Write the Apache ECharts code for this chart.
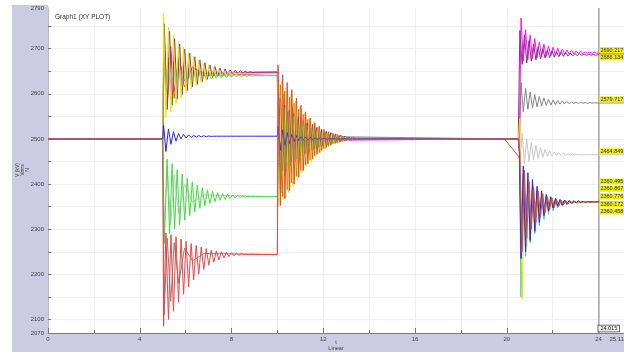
<!DOCTYPE html>
<html>
<head>
<meta charset="utf-8">
<script src="https://cdn.jsdelivr.net/npm/echarts@6/dist/echarts.min.js"></script>
<style>
html, body { margin: 0; padding: 0; background: #ffffff; }
#wrap { position: relative; width: 624px; height: 352px; overflow: hidden; }
.panel { position: absolute; background: #cbcbe4; }
#chart { position: absolute; left: 0; top: 0; width: 624px; height: 352px; }
</style>
</head>
<body>
<div id="wrap">
  <div class="panel" style="left:12px;top:5px;width:36px;height:347px"></div>
  <div class="panel" style="left:12px;top:333px;width:612px;height:19px"></div>
  <div id="chart"></div>
</div>
<script>
// ---- axis ranges and ticks ----
const X_MAX = 25.11;
const Y_MIN = 2070;
const Y_MAX = 2790;
const Y_LABELS = [2070, 2100, 2200, 2300, 2400, 2500, 2600, 2700, 2790];
const Y_TICKS = [2100, 2150, 2200, 2250, 2300, 2350, 2400, 2450, 2500, 2550, 2600, 2650, 2700, 2750];
const CURSOR_T = 24.015;

// ---- time grids (s) ----
const T0 = [0.0];
const T1A = [5.00, 5.04, 5.14, 5.25, 5.36, 5.47, 5.58, 5.69, 5.80, 5.91, 6.02, 6.13, 6.24, 6.35, 6.46, 6.57, 6.68, 6.79, 6.90, 7.01, 7.12, 7.23, 7.34, 7.45, 7.56, 7.67, 7.78, 7.89, 8.00, 8.11, 8.22, 8.33, 8.44, 8.55, 8.66, 8.77, 8.88, 8.99, 10.00];
const T1B = [5.00, 5.07, 5.19, 5.30, 5.41, 5.52, 5.63, 5.74, 5.85, 5.96, 6.07, 6.18, 6.29, 6.40, 6.51, 6.62, 6.73, 6.84, 6.95, 7.06, 7.17, 7.28, 7.39, 7.50, 7.61, 7.72, 7.83, 7.94, 8.05, 8.16, 8.27, 8.38, 8.49, 8.60, 8.71, 8.82, 8.93, 9.04, 10.00];
const T1S = [5.00, 5.06, 5.20, 5.35, 5.50, 5.70, 5.95, 6.30, 6.80, 10.00];
const T2A = [10.03, 10.13, 10.23, 10.33, 10.43, 10.53, 10.63, 10.73, 10.83, 10.93, 11.03, 11.13, 11.23, 11.33, 11.43, 11.53, 11.63, 11.73, 11.83, 11.93, 12.03, 12.13, 12.23, 12.33, 12.43, 12.53, 12.63, 12.73, 12.83, 12.93, 13.03, 13.13, 13.23, 13.33, 13.43, 13.53, 19.90];
const T2B = [10.05, 10.18, 10.28, 10.38, 10.48, 10.58, 10.68, 10.78, 10.88, 10.98, 11.08, 11.18, 11.28, 11.38, 11.48, 11.58, 11.68, 11.78, 11.88, 11.98, 12.08, 12.18, 12.28, 12.38, 12.48, 12.58, 12.68, 12.78, 12.88, 12.98, 13.08, 13.18, 13.28, 13.38, 13.48, 13.58, 19.90];
const T2S = [10.04, 10.15, 10.30, 10.45, 10.65, 10.90, 11.25, 11.70, 12.30, 19.90];
const T3A = [20.50, 20.55, 20.62, 20.72, 20.82, 20.92, 21.02, 21.12, 21.22, 21.32, 21.42, 21.52, 21.62, 21.72, 21.82, 21.92, 22.02, 22.12, 22.22, 22.32, 22.42, 22.52, 22.62, 22.72, 22.82, 22.92, 23.02, 23.12, 23.22, 23.32, 23.42, 23.52, 23.62, 23.72, 23.82, 23.92, 25.11];
const T3B = [20.50, 20.57, 20.67, 20.77, 20.87, 20.97, 21.07, 21.17, 21.27, 21.37, 21.47, 21.57, 21.67, 21.77, 21.87, 21.97, 22.07, 22.17, 22.27, 22.37, 22.47, 22.57, 22.67, 22.77, 22.87, 22.97, 23.07, 23.17, 23.27, 23.37, 23.47, 23.57, 23.67, 23.77, 23.87, 23.97, 25.11];

// ---- voltages (kV) ----
const V0 = [2500];

const RED_E1 = [2500, 2085, 2292, 2100, 2288, 2118, 2283, 2138, 2278, 2156, 2273, 2172, 2268, 2188, 2264, 2200, 2260, 2211, 2257, 2220, 2254, 2227, 2252, 2232, 2250, 2236, 2249, 2239, 2248, 2241, 2247, 2242, 2246, 2243, 2245, 2243.5, 2244.5, 2244, 2244];
const RED_E2 = [2664, 2352, 2642, 2368, 2625, 2385, 2609, 2400, 2590, 2415, 2574, 2430, 2560, 2445, 2546, 2456, 2536, 2466, 2528, 2474, 2521, 2481, 2516, 2486, 2512, 2490, 2509, 2493, 2506, 2495, 2504, 2497, 2503, 2498, 2501.5, 2499, 2500];
const RED_E3 = [2500, 2470, 2250, 2430, 2280, 2405, 2300, 2392, 2315, 2384, 2327, 2377, 2336, 2372, 2343, 2369, 2348, 2366, 2351, 2364.5, 2353.5, 2363.5, 2355.5, 2362.8, 2357, 2362.2, 2358, 2361.8, 2358.8, 2361.4, 2359.3, 2361, 2359.7, 2360.7, 2359.9, 2360.4, 2360.172];

const GREEN_E1 = [2500, 2268, 2455, 2290, 2445, 2300, 2432, 2310, 2422, 2320, 2413, 2330, 2405, 2338, 2398, 2346, 2392, 2352, 2387, 2357, 2384, 2361, 2381, 2364, 2379, 2366, 2377, 2368, 2376, 2369, 2375, 2370, 2374, 2371, 2373, 2371.5, 2372.5, 2372, 2372];
const GREEN_E2 = [2560, 2420, 2570, 2430, 2560, 2440, 2550, 2450, 2542, 2458, 2535, 2465, 2529, 2471, 2524, 2476, 2520, 2480, 2516, 2484, 2513, 2487, 2510, 2490, 2508, 2492, 2506, 2494, 2505, 2496, 2503, 2497.5, 2502, 2498.5, 2501, 2499.5, 2500];
const GREEN_E3 = [2500, 2478, 2270, 2425, 2290, 2402, 2305, 2390, 2318, 2382, 2328, 2376, 2336, 2371, 2342, 2368, 2347, 2366, 2350, 2364.5, 2353, 2363.5, 2355, 2362.8, 2356.5, 2362.3, 2357.5, 2362, 2358.3, 2361.5, 2359, 2361.2, 2359.6, 2360.9, 2360, 2360.6, 2360.458];

const BLUE_E1 = [2500, 2530, 2472, 2522, 2488, 2516, 2495, 2512, 2500, 2510, 2502, 2509, 2503, 2508, 2504, 2507.5, 2504.5, 2507, 2505, 2506.5, 2505.5, 2506, 2506, 2506, 2506, 2506, 2506, 2506, 2506, 2506, 2506, 2506, 2506, 2506, 2506, 2506, 2506, 2506, 2506];
const BLUE_E2 = [2528, 2475, 2520, 2485, 2514, 2490, 2510, 2494, 2507, 2496, 2505, 2497, 2504, 2498, 2503, 2498.5, 2502, 2499, 2501.5, 2499.5, 2501, 2499.5, 2500.5, 2500, 2500, 2500, 2500, 2500, 2500, 2500, 2500, 2500, 2500, 2500, 2500, 2500, 2500];
const BLUE_E3 = [2500, 2470, 2235, 2440, 2250, 2425, 2275, 2410, 2295, 2395, 2315, 2385, 2330, 2377, 2340, 2372, 2347, 2368, 2351, 2366, 2354, 2364.5, 2356, 2363.5, 2357.5, 2363, 2358.5, 2362.5, 2359, 2362, 2359.5, 2361.5, 2360, 2361.3, 2360.3, 2361, 2360.776];

const YELLOW_E1 = [2500, 2778, 2548, 2748, 2560, 2730, 2578, 2716, 2590, 2703, 2602, 2692, 2611, 2683, 2618, 2675, 2624, 2668, 2629, 2662, 2633, 2658, 2636, 2654, 2638, 2651, 2640, 2649, 2641, 2648, 2642, 2647, 2643, 2646, 2644, 2645.5, 2644.5, 2645, 2645];
const YELLOW_E2 = [2350, 2628, 2365, 2612, 2380, 2598, 2395, 2584, 2410, 2570, 2425, 2557, 2438, 2545, 2450, 2535, 2460, 2527, 2469, 2520, 2477, 2515, 2483, 2511, 2488, 2508, 2491, 2506, 2494, 2504, 2496, 2503, 2497.5, 2502, 2498.5, 2500.5, 2500];
const YELLOW_E3 = [2500, 2545, 2145, 2430, 2260, 2410, 2290, 2398, 2310, 2388, 2325, 2380, 2336, 2374, 2344, 2370, 2349, 2367, 2352, 2365, 2355, 2363.5, 2357, 2362.5, 2358, 2362, 2358.8, 2361.5, 2359.3, 2361.2, 2359.7, 2361, 2360, 2360.8, 2360.2, 2360.6, 2360.495];

const PURPLE_E1 = [2500, 2755, 2565, 2738, 2575, 2722, 2588, 2710, 2598, 2699, 2607, 2690, 2615, 2682, 2621, 2675, 2627, 2669, 2632, 2664, 2636, 2660, 2639, 2657, 2641, 2655, 2643, 2653, 2644, 2652, 2645, 2651, 2646, 2650, 2647, 2649, 2647.5, 2648, 2648];
const PURPLE_E2 = [2440, 2590, 2430, 2575, 2440, 2565, 2448, 2556, 2455, 2548, 2462, 2541, 2468, 2535, 2473, 2530, 2478, 2525, 2482, 2521, 2485, 2517, 2488, 2514, 2491, 2511, 2493, 2508, 2495, 2506, 2496.5, 2504, 2497.5, 2502.5, 2498.5, 2501, 2500];
const PURPLE_E3 = [2500, 2740, 2665, 2730, 2668, 2718, 2672, 2710, 2675, 2704, 2677, 2700, 2679, 2697, 2680, 2695, 2681, 2693, 2682, 2692, 2683, 2691, 2683.5, 2690, 2684, 2689, 2684.5, 2688.5, 2685, 2688, 2685, 2687.5, 2685.5, 2687, 2685.5, 2686.5, 2686.134];

const CYAN_E1 = [2500, 2690, 2590, 2680, 2600, 2672, 2608, 2666, 2614, 2661, 2619, 2657, 2623, 2654, 2626, 2651, 2629, 2649, 2631, 2647, 2633, 2646, 2634, 2645, 2635, 2644, 2636, 2643, 2637, 2642.5, 2637.5, 2642, 2638, 2641.5, 2638.5, 2641, 2639.5, 2640, 2640];
const CYAN_E2 = [2450, 2580, 2440, 2570, 2448, 2560, 2456, 2550, 2462, 2543, 2468, 2537, 2473, 2531, 2478, 2526, 2482, 2522, 2485, 2518, 2488, 2515, 2490, 2512, 2492, 2510, 2494, 2508, 2495.5, 2506, 2497, 2504, 2498, 2502.5, 2499, 2501, 2500];
const CYAN_E3 = [2500, 2485, 2150, 2420, 2240, 2405, 2270, 2395, 2290, 2386, 2308, 2378, 2322, 2373, 2333, 2369, 2341, 2366, 2347, 2364, 2351, 2363, 2354, 2362.5, 2356.5, 2362, 2358, 2361.7, 2359, 2361.4, 2359.6, 2361.2, 2360.2, 2361, 2360.5, 2361, 2360.867];

const ORANGE_E1 = [2500, 2700, 2570, 2690, 2590, 2675, 2615, 2660, 2640, 2645];
const ORANGE_E2 = [2360, 2620, 2372, 2606, 2388, 2592, 2402, 2579, 2417, 2566, 2430, 2554, 2442, 2543, 2453, 2533, 2462, 2525, 2470, 2519, 2478, 2514, 2484, 2510, 2489, 2507, 2492, 2505, 2495, 2503.5, 2497, 2502.5, 2498, 2501.5, 2499, 2500.5, 2500];
const ORANGE_E3 = [2462, 2455, 2300, 2410, 2310, 2395, 2320, 2385, 2330, 2378, 2337, 2373, 2342, 2370, 2346, 2367, 2349, 2365, 2352, 2364, 2354, 2363, 2356, 2362.5, 2357.5, 2362, 2358.3, 2361.6, 2359, 2361.3, 2359.5, 2361, 2360, 2360.8, 2360.2, 2360.6, 2360.4];

const MAGENTA_E1 = [2500, 2740, 2580, 2705, 2605, 2680, 2628, 2658, 2645, 2648];
const MAGENTA_E2 = [2440, 2585, 2450, 2560, 2465, 2535, 2480, 2512, 2497, 2500];
const MAGENTA_E3 = [2500, 2480, 2768, 2672, 2742, 2676, 2730, 2678, 2722, 2680, 2715, 2682, 2710, 2683, 2706, 2684, 2703, 2685, 2701, 2686, 2699, 2687, 2697, 2688, 2696, 2688, 2695, 2689, 2694, 2689, 2693, 2689.5, 2692.5, 2689.5, 2692, 2690, 2690.217];

const GRAY_E1 = [2500, 2110, 2280, 2140, 2270, 2180, 2258, 2230, 2246, 2244];
const GRAY_E2 = [2630, 2380, 2600, 2410, 2570, 2440, 2535, 2485, 2505, 2500];
const GRAY_E3 = [2500, 2490, 2625, 2560, 2612, 2566, 2604, 2569, 2598, 2571, 2594, 2573, 2591, 2574, 2588, 2575, 2586, 2576, 2585, 2577, 2584, 2577.5, 2583, 2578, 2582, 2578.5, 2581.5, 2578.5, 2581, 2579, 2580.5, 2579, 2580.5, 2579.3, 2580, 2579.5, 2579.717];

const LGRAY_E1 = [2500, 2290, 2440, 2310, 2420, 2335, 2400, 2360, 2376, 2372];
const LGRAY_E2 = [2560, 2430, 2550, 2450, 2535, 2465, 2520, 2490, 2503, 2500];
const LGRAY_E3 = [2500, 2440, 2512, 2445, 2500, 2450, 2492, 2454, 2486, 2457, 2481, 2459, 2477, 2461, 2474, 2462, 2471, 2463, 2469, 2463.5, 2468, 2464, 2467, 2464, 2466.5, 2464.2, 2466, 2464.5, 2465.5, 2464.5, 2465.3, 2464.6, 2465.1, 2464.7, 2465, 2464.8, 2464.849];

// ---- traces: drawing order, colour, and where the cursor readout sits ----
const FONT = 'Liberation Sans, Arial, sans-serif';
const traces = [
  { name: 'Vlg', color: '#c6c6c6', parts: [[T0, V0], [T1S, LGRAY_E1], [T2S, LGRAY_E2], [T3B, LGRAY_E3]], tagDy: -6 },
  { name: 'Vg',  color: '#858585', parts: [[T0, V0], [T1S, GRAY_E1], [T2S, GRAY_E2], [T3A, GRAY_E3]], tagDy: -6 },
  { name: 'Vo',  color: '#c26e24', parts: [[T0, V0], [T1S, ORANGE_E1], [T2A, ORANGE_E2], [T3A, ORANGE_E3]] },
  { name: 'Vm',  color: '#ff10ff', parts: [[T0, V0], [T1S, MAGENTA_E1], [T2S, MAGENTA_E2], [T3A, MAGENTA_E3]], tagDy: -5.5 },
  { name: 'Vc',  color: '#38c8a8', parts: [[T0, V0], [T1A, CYAN_E1], [T2B, CYAN_E2], [T3A, CYAN_E3]], tagDy: -15.4 },
  { name: 'Vp',  color: '#8a3080', parts: [[T0, V0], [T1B, PURPLE_E1], [T2A, PURPLE_E2], [T3B, PURPLE_E3]], tagDy: 0 },
  { name: 'Vy',  color: '#e8e800', parts: [[T0, V0], [T1A, YELLOW_E1], [T2B, YELLOW_E2], [T3B, YELLOW_E3]], tagDy: -22.9 },
  { name: 'Vgr', color: '#40dc40', parts: [[T0, V0], [T1B, GREEN_E1], [T2B, GREEN_E2], [T3A, GREEN_E3]], tagDy: 7.1 },
  { name: 'Vb',  color: '#2424ff', parts: [[T0, V0], [T1A, BLUE_E1], [T2A, BLUE_E2], [T3A, BLUE_E3]], tagDy: -7.9 },
  { name: 'Vr',  color: '#f04444', parts: [[T0, V0], [T1A, RED_E1], [T2A, RED_E2], [T3B, RED_E3]], tagDy: -0.4 }
];

function toPoints(parts) {
  const pts = [];
  parts.forEach(([ts, vs]) => ts.forEach((t, i) => pts.push([t, vs[i]])));
  return pts;
}

const series = [];

// cursor line with its time readout
series.push({
  type: 'line',
  name: 'cursor',
  data: [[CURSOR_T, Y_MIN], [CURSOR_T, Y_MAX]],
  symbol: 'none',
  silent: true,
  animation: false,
  lineStyle: { color: '#a4a4a4', width: 1.5 },
  markPoint: {
    symbol: 'rect', symbolSize: 1, silent: true, animation: false,
    itemStyle: { color: 'rgba(0,0,0,0)' },
    data: [{ coord: [CURSOR_T, Y_MIN] }],
    label: {
      show: true, position: [0, -7], formatter: CURSOR_T.toFixed(3),
      fontFamily: FONT, fontSize: 5.5, lineHeight: 6, color: '#222',
      backgroundColor: '#f2f2f2', borderColor: '#444', borderWidth: 0.8, padding: [0, 2]
    }
  }
});

traces.forEach(tr => {
  const data = toPoints(tr.parts);
  const last = data[data.length - 1][1];
  const s = {
    type: 'line', name: tr.name, data,
    symbol: 'none', showSymbol: false, silent: true, animation: false,
    lineStyle: { color: tr.color, width: 1 },
    itemStyle: { color: tr.color }
  };
  if (tr.tagDy !== undefined) {
    s.markPoint = {
      symbol: 'rect', symbolSize: 1, silent: true, animation: false,
      itemStyle: { color: 'rgba(0,0,0,0)' },
      data: [{ coord: [CURSOR_T, last] }],
      label: {
        show: true, position: [1, tr.tagDy], formatter: last.toFixed(3),
        fontFamily: FONT, fontSize: 5.5, lineHeight: 6, color: '#333',
        backgroundColor: '#eeee12', padding: [0, 1]
      }
    };
  }
  series.push(s);
});

const chart = echarts.init(document.getElementById('chart'), null, { renderer: 'canvas' });
chart.setOption({
  animation: false,
  backgroundColor: 'transparent',
  textStyle: { fontFamily: FONT },
  title: {
    text: 'Graph1 (XY PLOT)', left: 50, top: 9,
    textStyle: { fontFamily: FONT, fontSize: 6.5, fontWeight: 'normal', color: '#333' }
  },
  graphic: [
    { type: 'text', x: 336, y: 342, silent: true,
      style: { text: 't', font: '5.5px ' + FONT, fill: '#444', align: 'center', verticalAlign: 'middle' } },
    { type: 'text', x: 336, y: 348, silent: true,
      style: { text: 'Linear', font: '5.5px ' + FONT, fill: '#444', align: 'center', verticalAlign: 'middle' } },
    { type: 'text', x: 23, y: 170, rotation: Math.PI / 2, silent: true,
      style: { text: 'V (kV)\nVrms\nN', font: '5px ' + FONT, lineHeight: 5, fill: '#444', align: 'center', verticalAlign: 'middle' } }
  ],
  grid: {
    left: 48, right: 0, top: 8, bottom: 19,
    show: true, backgroundColor: '#ffffff', borderWidth: 0,
    containLabel: false, outerBoundsMode: 'none'
  },
  xAxis: {
    type: 'value', min: 0, max: X_MAX, interval: 4,
    axisLine: { show: true, onZero: false, lineStyle: { color: '#7c7c7c', width: 1.2 } },
    axisTick: { show: true, inside: true, length: 5, lineStyle: { color: '#777' } },
    minorTick: { show: true, splitNumber: 2, length: 3, lineStyle: { color: '#777' } },
    axisLabel: {
      fontFamily: FONT, fontSize: 6, color: '#444', margin: 3,
      showMinLabel: true, showMaxLabel: true, alignMaxLabel: 'right',
      formatter: v => String(v)
    },
    splitLine: { show: true, lineStyle: { color: '#efefef', width: 1 } },
    minorSplitLine: { show: true, lineStyle: { color: '#efefef', width: 1 } }
  },
  yAxis: {
    type: 'value', min: Y_MIN, max: Y_MAX,
    axisLine: { show: true, lineStyle: { color: '#bcbcbc', width: 1 } },
    axisTick: { show: true, inside: true, length: 3, customValues: Y_TICKS, lineStyle: { color: '#777' } },
    axisLabel: { customValues: Y_LABELS, fontFamily: FONT, fontSize: 6, color: '#444', margin: 4,
      formatter: v => String(v) },
    splitLine: { show: true, lineStyle: { color: '#efefef', width: 1 } }
  },
  series
});
</script>
</body>
</html>
